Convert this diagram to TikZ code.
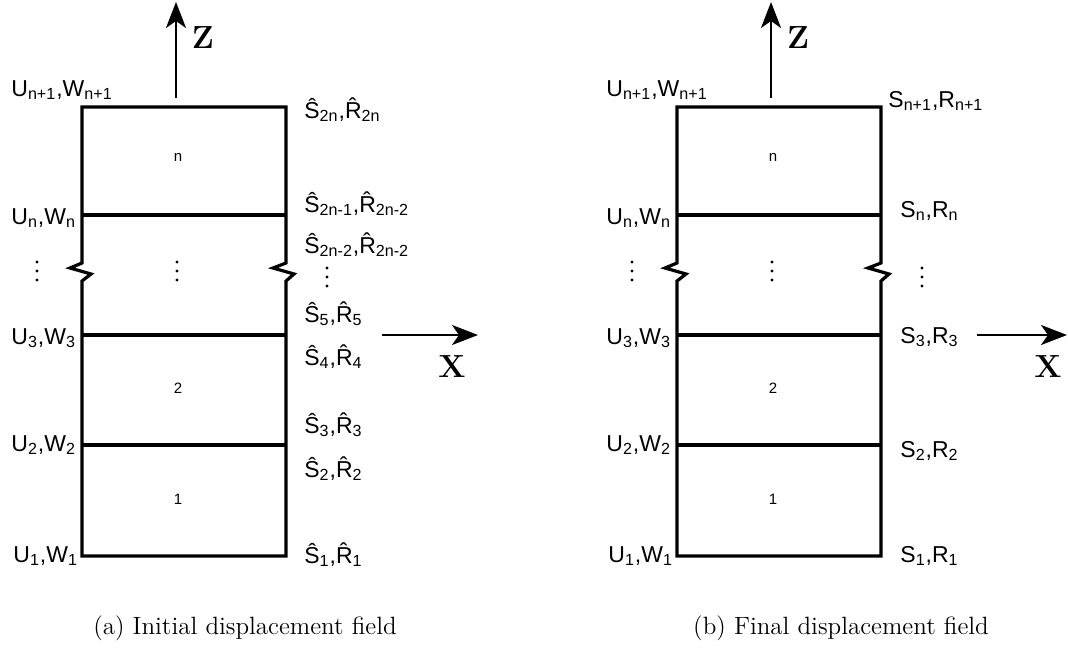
\documentclass[tikz,border=0pt]{standalone}
\usepackage{fontspec}
\newfontfamily\arialfont{Liberation Sans}
\usetikzlibrary{arrows.meta}
\newcommand{\lsub}[1]{\textsubscript{#1}}
\newcommand{\threedots}[2]{\fill (#1,#2-9) circle (0.8pt) (#1,#2) circle (0.8pt) (#1,#2+9) circle (0.8pt);}

\begin{document}
\begin{tikzpicture}[x=0.5pt,y=-0.5pt,
    wall/.style={line width=1.6pt},
    axis/.style={line width=1.2pt,-{Stealth[length=13pt,width=10pt,inset=3.5pt]}},
    lbl/.style={anchor=base west,inner sep=0pt,font=\arialfont\fontsize{11.5}{13}\selectfont},
    cell/.style={inner sep=0pt,font=\arialfont\fontsize{7.5}{8}\selectfont},
    axlabel/.style={inner sep=0pt,font=\fontsize{16}{18}\selectfont\bfseries},
    capt/.style={inner sep=0pt,font=\fontsize{12.5}{14}\selectfont}]
    \useasboundingbox (0,0) rectangle (1068,648);

    % Left panel: initial field
    \begin{scope}
        % Layered column with break
        \draw[wall] (82,107) -- (286,107) -- (286,263) -- (273,268) -- (294,274) -- (286,281)
            -- (286,556) -- (82,556) -- (82,281) -- (91,274) -- (70,268) -- (82,263) -- cycle;
        \foreach \y in {215,335,445}
            \draw[wall] (82,\y) -- (286,\y);
        \node[cell] (an) at (178,157) {n};
        \node[cell] (a2) at (178,388) {2};
        \node[cell] (a1) at (178,499) {1};
        \threedots{37}{271}
        \threedots{177}{271}
        \threedots{327}{277}

        % Axes
        \coordinate (azfoot) at (176,98);
        \coordinate (aztip) at (176,2);
        \draw[axis] (azfoot) -- (aztip);
        \node[axlabel] (az) at (203,38) {Z};
        \coordinate (axfoot) at (382,335);
        \coordinate (axtip) at (478,335);
        \draw[axis] (axfoot) -- (axtip);
        \node[axlabel] (ax) at (452,367) {X};

        % Nodal values
        \node[lbl] (au5) at (11,96) {U\lsub{n+1},W\lsub{n+1}};
        \node[lbl] (au4) at (11,224) {U\lsub{n},W\lsub{n}};
        \node[lbl] (au3) at (11,344) {U\lsub{3},W\lsub{3}};
        \node[lbl] (au2) at (11,451) {U\lsub{2},W\lsub{2}};
        \node[lbl] (au1) at (13,562) {U\lsub{1},W\lsub{1}};
        \node[lbl] (as9) at (304,118) {\^S\lsub{2n},\^R\lsub{2n}};
        \node[lbl] (as8) at (304,212) {\^S\lsub{2n-1},\^R\lsub{2n-2}};
        \node[lbl] (as7) at (304,253) {\^S\lsub{2n-2},\^R\lsub{2n-2}};
        \node[lbl] (as5) at (304,322) {\^S\lsub{5},\^R\lsub{5}};
        \node[lbl] (as4) at (304,365) {\^S\lsub{4},\^R\lsub{4}};
        \node[lbl] (as3) at (304,433) {\^S\lsub{3},\^R\lsub{3}};
        \node[lbl] (as2) at (304,477) {\^S\lsub{2},\^R\lsub{2}};
        \node[lbl] (as1) at (304,563) {\^S\lsub{1},\^R\lsub{1}};

        \node[capt] (acap) at (245,628) {(a) Initial displacement field};
    \end{scope}

    % Right panel: final field
    \begin{scope}[shift={(595,0)}]
        \draw[wall] (82,107) -- (286,107) -- (286,263) -- (273,268) -- (294,274) -- (286,281)
            -- (286,556) -- (82,556) -- (82,281) -- (91,274) -- (70,268) -- (82,263) -- cycle;
        \foreach \y in {215,335,445}
            \draw[wall] (82,\y) -- (286,\y);
        \node[cell] (bn) at (178,157) {n};
        \node[cell] (b2) at (178,388) {2};
        \node[cell] (b1) at (178,499) {1};
        \threedots{37}{271}
        \threedots{177}{271}
        \threedots{327}{277}

        % Axes
        \coordinate (bzfoot) at (176,98);
        \coordinate (bztip) at (176,2);
        \draw[axis] (bzfoot) -- (bztip);
        \node[axlabel] (bz) at (203,38) {Z};
        \coordinate (bxfoot) at (382,335);
        \coordinate (bxtip) at (472,335);
        \draw[axis] (bxfoot) -- (bxtip);
        \node[axlabel] (bx) at (453,367) {X};

        % Nodal values
        \node[lbl] (bu5) at (11,96) {U\lsub{n+1},W\lsub{n+1}};
        \node[lbl] (bu4) at (11,224) {U\lsub{n},W\lsub{n}};
        \node[lbl] (bu3) at (11,344) {U\lsub{3},W\lsub{3}};
        \node[lbl] (bu2) at (11,451) {U\lsub{2},W\lsub{2}};
        \node[lbl] (bu1) at (13,562) {U\lsub{1},W\lsub{1}};
        \node[lbl] (bs5) at (293,107) {S\lsub{n+1},R\lsub{n+1}};
        \node[lbl] (bs4) at (305,217) {S\lsub{n},R\lsub{n}};
        \node[lbl] (bs3) at (305,343) {S\lsub{3},R\lsub{3}};
        \node[lbl] (bs2) at (305,457) {S\lsub{2},R\lsub{2}};
        \node[lbl] (bs1) at (305,562) {S\lsub{1},R\lsub{1}};

        \node[capt] (bcap) at (246,628) {(b) Final displacement field};
    \end{scope}
\end{tikzpicture}
\end{document}
